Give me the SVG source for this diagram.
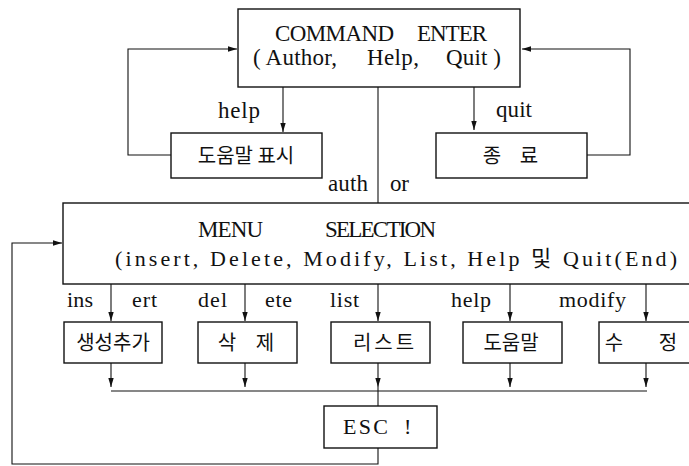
<svg xmlns="http://www.w3.org/2000/svg" width="689" height="466" viewBox="0 0 689 466">
  <style>
    .box { fill: #fff; stroke: #111; stroke-width: 1.4; }
    .ln { fill: none; stroke: #111; stroke-width: 1.1; }
    .t { font-family: "Liberation Serif", serif; font-size: 23px; fill: #111; }
    .c { font-family: "Liberation Serif", "Noto Sans CJK KR", serif; font-size: 22px; fill: #111; }
    .k { font-family: "Noto Sans CJK KR", sans-serif; font-size: 20px; fill: #111; text-anchor: middle; }
  </style>
  <defs>
    <marker id="arr" viewBox="0 0 10 6" refX="10" refY="3" markerWidth="9" markerHeight="5.5" markerUnits="userSpaceOnUse" orient="auto">
      <path d="M0,0 L10,3 L0,6 Z" fill="#111"/>
    </marker>
  </defs>
  <rect width="689" height="466" fill="#fff"/>

  <g id="connectors">
    <!-- help loop -->
    <path class="ln" d="M171,155 H128 V49 H237" marker-end="url(#arr)"/>
    <line class="ln" x1="283" y1="87" x2="283" y2="132" marker-end="url(#arr)"/>
    <!-- quit loop -->
    <line class="ln" x1="474" y1="87" x2="474" y2="130" marker-end="url(#arr)"/>
    <path class="ln" d="M587,155 H630 V49 H522" marker-end="url(#arr)"/>
    <!-- command to menu -->
    <line class="ln" x1="378" y1="87" x2="378" y2="203"/>
    <!-- menu to actions -->
    <line class="ln" x1="111" y1="284" x2="111" y2="321" marker-end="url(#arr)"/>
    <line class="ln" x1="245" y1="284" x2="245" y2="321" marker-end="url(#arr)"/>
    <line class="ln" x1="378" y1="284" x2="378" y2="321" marker-end="url(#arr)"/>
    <line class="ln" x1="510" y1="284" x2="510" y2="321" marker-end="url(#arr)"/>
    <line class="ln" x1="646" y1="284" x2="646" y2="321" marker-end="url(#arr)"/>
    <!-- actions to join line -->
    <line class="ln" x1="111" y1="363" x2="111" y2="387" marker-end="url(#arr)"/>
    <line class="ln" x1="245" y1="363" x2="245" y2="387" marker-end="url(#arr)"/>
    <line class="ln" x1="378" y1="363" x2="378" y2="387" marker-end="url(#arr)"/>
    <line class="ln" x1="510" y1="363" x2="510" y2="387" marker-end="url(#arr)"/>
    <line class="ln" x1="646" y1="363" x2="646" y2="387" marker-end="url(#arr)"/>
    <line class="ln" x1="111" y1="391" x2="647" y2="391"/>
    <line class="ln" x1="378" y1="387" x2="378" y2="406"/>
    <!-- back to menu -->
    <path class="ln" d="M378,448 V464 H12 V243 H62" marker-end="url(#arr)"/>
    <!-- labels -->
    <text class="t" x="218" y="118" textLength="42">help</text>
    <text class="t" x="496" y="117" textLength="36">quit</text>
    <text class="t" x="328" y="191" textLength="40">auth</text>
    <text class="t" x="390" y="191" textLength="19">or</text>
    <text class="c" x="67" y="307" textLength="26">ins</text>
    <text class="c" x="132" y="307" textLength="25">ert</text>
    <text class="c" x="198" y="307" textLength="29">del</text>
    <text class="c" x="265" y="307" textLength="27">ete</text>
    <text class="c" x="330" y="307" textLength="29">list</text>
    <text class="c" x="451" y="307" textLength="40">help</text>
    <text class="c" x="559" y="307" textLength="67">modify</text>
  </g>

  <g id="command-enter">
    <rect class="box" x="238" y="9" width="282" height="78"/>
    <text class="t" x="275" y="41" textLength="119">COMMAND</text>
    <text class="t" x="417" y="41" textLength="70">ENTER</text>
    <text class="t" x="253" y="65" textLength="84">( Author,</text>
    <text class="t" x="367" y="65" textLength="52">Help,</text>
    <text class="t" x="446" y="65" textLength="55">Quit )</text>
  </g>

  <g id="help-display">
    <rect class="box" x="171" y="133" width="151" height="45"/>
    <text class="k" x="246" y="163">도움말 표시</text>
  </g>

  <g id="quit">
    <rect class="box" x="436" y="133" width="151" height="45"/>
    <text class="k" x="492" y="163">종</text>
    <text class="k" x="529" y="163">료</text>
  </g>

  <g id="menu-selection">
    <rect class="box" x="63" y="203" width="640" height="81"/>
    <text class="t" x="198" y="237" textLength="65">MENU</text>
    <text class="t" x="325" y="237" textLength="111">SELECTION</text>
    <text class="c" x="115" y="266" textLength="562">(insert, Delete, Modify, List, Help 및 Quit(End)</text>
  </g>

  <g id="insert">
    <rect class="box" x="64" y="322" width="98" height="41"/>
    <text class="k" x="113" y="350">생성추가</text>
  </g>

  <g id="delete">
    <rect class="box" x="198" y="322" width="99" height="41"/>
    <text class="k" x="227" y="350">삭</text>
    <text class="k" x="265" y="350">제</text>
  </g>

  <g id="list">
    <rect class="box" x="331" y="322" width="99" height="41"/>
    <text class="k" x="385" y="350" letter-spacing="3">리스트</text>
  </g>

  <g id="help">
    <rect class="box" x="463" y="322" width="99" height="41"/>
    <text class="k" x="511" y="350">도움말</text>
  </g>

  <g id="modify">
    <rect class="box" x="599" y="322" width="100" height="41"/>
    <text class="k" x="614" y="350">수</text>
    <text class="k" x="668" y="350">정</text>
  </g>

  <g id="esc">
    <rect class="box" x="324" y="406" width="113" height="42"/>
    <text class="c" x="343" y="434" textLength="45">ESC</text>
    <text class="c" x="404" y="434">!</text>
  </g>
</svg>
